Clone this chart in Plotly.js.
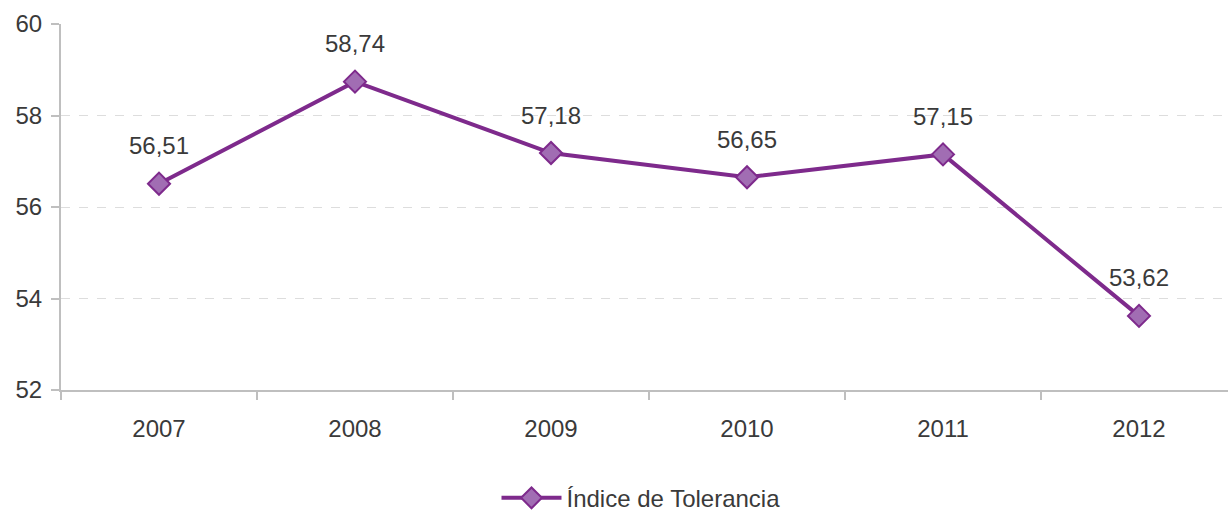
<!DOCTYPE html>
<html><head><meta charset="utf-8">
<script src="https://cdn.plot.ly/plotly-3.0.1.min.js"></script>
<style>html,body{margin:0;padding:0;background:#fff}#c{width:1228px;height:511px}</style>
</head><body><div id="c"></div>
<script>
const years = ["2007","2008","2009","2010","2011","2012"];
const values = [56.51, 58.74, 57.18, 56.65, 57.15, 53.62];
const labels = ["56,51","58,74","57,18","56,65","57,15","53,62"];
const seriesName = "Índice de Tolerancia";
const yTicks = [52,54,56,58,60];

const font = "Liberation Sans, Arial, sans-serif";
const fs = 24;
const txt = "#3a3a3a";
const trace = {
  x: years, y: values, type: "scatter", mode: "lines+markers", name: seriesName,
  line: {color: "#7E2A8C", width: 4},
  marker: {symbol: "diamond", size: 17, color: "#A16DB3", line: {color: "#7E2A8C", width: 2}},
  cliponaxis: false
};
const annotations = years.map((y,i)=>({
  xref: "x", yref: "y", x: i, y: values[i], text: labels[i], showarrow: false,
  yshift: 38, xanchor: "center", yanchor: "middle",
  font: {family: font, size: fs, color: txt}
}));
const layout = {
  width: 1228, height: 511,
  margin: {l: 61, r: 0, t: 24, b: 121, autoexpand: false},
  paper_bgcolor: "#fff", plot_bgcolor: "#fff",
  font: {family: font, size: fs, color: txt},
  showlegend: true,
  legend: {orientation: "h", x: 0.497, xanchor: "center", yref: "container", y: 0.025, yanchor: "middle",
           itemwidth: 60, font: {family: font, size: fs, color: txt}},
  xaxis: {type: "category", range: [-0.5, 5.454], showline: true, linecolor: "#BFBFBF", linewidth: 2,
          ticks: "outside", tickson: "boundaries", ticklen: 8, tickcolor: "#BFBFBF", tickwidth: 2,
          showgrid: false, zeroline: false, ticklabelstandoff: 16, tickfont: {size: fs, color: txt}},
  yaxis: {range: [52, 60], tickvals: yTicks, ticktext: yTicks.map(String), showline: true,
          linecolor: "#BFBFBF", linewidth: 2, ticks: "outside", ticklen: 8, tickcolor: "#BFBFBF", tickwidth: 2,
          showgrid: true, gridcolor: "#DDDDDD", griddash: "dash", gridwidth: 1, zeroline: false,
          ticklabelstandoff: 4, tickfont: {size: fs, color: txt}},
  annotations: annotations
};
Plotly.newPlot("c", [trace], layout, {displayModeBar: false, staticPlot: true});
</script></body></html>
